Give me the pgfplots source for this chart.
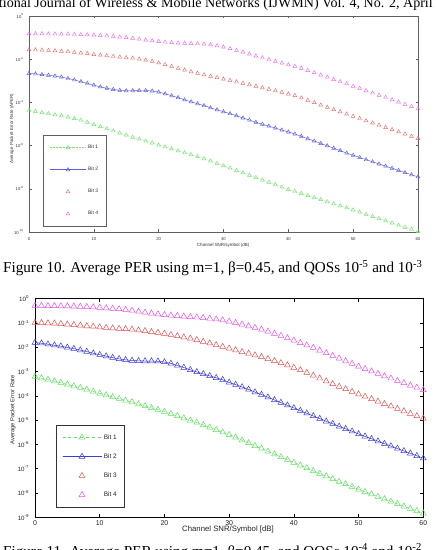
\documentclass[border=0pt]{standalone}
\usepackage{pgfplots}
\pgfplotsset{compat=1.18}
\usepackage{pgfplotstable}
\usepackage{fontspec}
\setmainfont{Liberation Serif}
\newfontfamily\arial{Liberation Sans}
\definecolor{tgreen}{RGB}{120,225,120}
\definecolor{tblue}{RGB}{95,95,225}
\definecolor{tred}{RGB}{232,110,110}
\definecolor{tmag}{RGB}{238,110,238}
\definecolor{bgreen}{RGB}{95,225,95}
\definecolor{bblue}{RGB}{60,60,215}
\definecolor{bred}{RGB}{228,80,80}
\definecolor{bmag}{RGB}{232,80,232}

\pgfplotstableread{
x b1 b2 b3 b4
0 4.27e-5 2.19e-3 2.75e-2 1.51e-1
1 3.80e-5 2.09e-3 2.69e-2 1.51e-1
2 3.39e-5 1.95e-3 2.63e-2 1.51e-1
3 3.02e-5 1.82e-3 2.57e-2 1.48e-1
4 2.69e-5 1.66e-3 2.45e-2 1.48e-1
5 2.40e-5 1.48e-3 2.34e-2 1.45e-1
6 2.09e-5 1.29e-3 2.24e-2 1.45e-1
7 1.78e-5 1.10e-3 2.09e-2 1.41e-1
8 1.51e-5 9.12e-4 1.95e-2 1.38e-1
9 1.20e-5 7.59e-4 1.82e-2 1.35e-1
10 9.55e-6 6.31e-4 1.66e-2 1.32e-1
11 7.59e-6 5.25e-4 1.55e-2 1.26e-1
12 6.03e-6 4.47e-4 1.45e-2 1.20e-1
13 4.79e-6 3.98e-4 1.35e-2 1.15e-1
14 3.80e-6 3.63e-4 1.26e-2 1.07e-1
15 3.09e-6 3.47e-4 1.17e-2 1.00e-1
16 2.45e-6 3.47e-4 1.12e-2 9.33e-2
17 2.00e-6 3.55e-4 1.02e-2 8.51e-2
18 1.62e-6 3.55e-4 9.12e-3 7.76e-2
19 1.32e-6 3.39e-4 7.94e-3 7.08e-2
20 1.07e-6 3.02e-4 6.76e-3 6.61e-2
21 8.71e-7 2.51e-4 5.62e-3 6.17e-2
22 7.08e-7 2.04e-4 4.68e-3 5.89e-2
23 5.75e-7 1.66e-4 3.80e-3 5.62e-2
24 4.68e-7 1.32e-4 3.16e-3 5.50e-2
25 3.80e-7 1.07e-4 2.63e-3 5.37e-2
26 3.09e-7 8.71e-5 2.24e-3 5.25e-2
27 2.45e-7 7.08e-5 1.91e-3 5.01e-2
28 1.95e-7 5.62e-5 1.62e-3 4.68e-2
29 1.51e-7 4.57e-5 1.41e-3 4.17e-2
30 1.17e-7 3.72e-5 1.20e-3 3.63e-2
31 9.12e-8 3.02e-5 1.05e-3 3.09e-2
32 7.08e-8 2.40e-5 8.91e-4 2.57e-2
33 5.50e-8 1.91e-5 7.76e-4 2.14e-2
34 4.27e-8 1.51e-5 6.61e-4 1.74e-2
35 3.31e-8 1.20e-5 5.62e-4 1.41e-2
36 2.57e-8 9.77e-6 4.79e-4 1.15e-2
37 2.00e-8 7.94e-6 4.07e-4 9.55e-3
38 1.55e-8 6.46e-6 3.47e-4 7.94e-3
39 1.20e-8 5.25e-6 2.95e-4 6.61e-3
40 9.33e-9 4.27e-6 2.45e-4 5.50e-3
41 7.59e-9 3.47e-6 2.09e-4 4.68e-3
42 6.03e-9 2.69e-6 1.62e-4 3.80e-3
43 4.90e-9 2.09e-6 1.26e-4 3.02e-3
44 3.89e-9 1.62e-6 9.77e-5 2.40e-3
45 3.16e-9 1.26e-6 7.59e-5 1.86e-3
46 2.51e-9 9.77e-7 5.89e-5 1.48e-3
47 2.04e-9 7.59e-7 4.68e-5 1.15e-3
48 1.62e-9 5.89e-7 3.72e-5 9.12e-4
49 1.32e-9 4.47e-7 2.88e-5 7.24e-4
50 1.05e-9 3.55e-7 2.29e-5 5.62e-4
51 8.32e-10 2.82e-7 1.82e-5 4.47e-4
52 6.61e-10 2.24e-7 1.41e-5 3.47e-4
53 5.25e-10 1.78e-7 1.12e-5 2.75e-4
54 4.17e-10 1.41e-7 8.91e-6 2.14e-4
55 3.31e-10 1.12e-7 6.92e-6 1.70e-4
56 2.63e-10 8.91e-8 5.50e-6 1.32e-4
57 2.09e-10 7.08e-8 4.37e-6 1.05e-4
58 1.66e-10 5.62e-8 3.47e-6 8.13e-5
59 1.32e-10 4.47e-8 2.69e-6 6.46e-5
60 1.05e-10 3.55e-8 2.14e-6 5.01e-5
}\topdata

\pgfplotstableread{
x b1 b2 b3 b4
0 6.17e-4 1.55e-2 1.02e-1 5.13e-1
1 5.37e-4 1.45e-2 1.00e-1 5.13e-1
2 4.68e-4 1.32e-2 9.77e-2 5.01e-1
3 3.98e-4 1.20e-2 9.55e-2 5.01e-1
4 3.47e-4 1.10e-2 9.12e-2 4.90e-1
5 2.95e-4 9.77e-3 8.71e-2 4.90e-1
6 2.51e-4 8.71e-3 8.32e-2 4.79e-1
7 2.14e-4 7.59e-3 7.94e-2 4.68e-1
8 1.82e-4 6.61e-3 7.41e-2 4.57e-1
9 1.51e-4 5.62e-3 7.08e-2 4.47e-1
10 1.26e-4 4.90e-3 6.61e-2 4.27e-1
11 1.07e-4 4.27e-3 6.31e-2 4.07e-1
12 8.91e-5 3.72e-3 6.03e-2 3.89e-1
13 7.59e-5 3.31e-3 5.75e-2 3.72e-1
14 6.46e-5 3.02e-3 5.62e-2 3.47e-1
15 5.50e-5 2.82e-3 5.37e-2 3.24e-1
16 4.57e-5 2.75e-3 5.01e-2 2.95e-1
17 3.80e-5 2.69e-3 4.68e-2 2.69e-1
18 3.16e-5 2.69e-3 4.27e-2 2.45e-1
19 2.69e-5 2.63e-3 3.98e-2 2.29e-1
20 2.24e-5 2.45e-3 3.63e-2 2.14e-1
21 1.82e-5 2.14e-3 3.24e-2 2.04e-1
22 1.48e-5 1.78e-3 2.88e-2 1.95e-1
23 1.20e-5 1.45e-3 2.57e-2 1.86e-1
24 9.77e-6 1.17e-3 2.29e-2 1.78e-1
25 7.94e-6 9.55e-4 2.00e-2 1.70e-1
26 6.31e-6 7.94e-4 1.70e-2 1.62e-1
27 5.01e-6 6.61e-4 1.45e-2 1.51e-1
28 3.98e-6 5.50e-4 1.23e-2 1.41e-1
29 3.16e-6 4.57e-4 1.05e-2 1.29e-1
30 2.51e-6 3.55e-4 8.91e-3 1.15e-1
31 1.95e-6 2.88e-4 7.59e-3 1.00e-1
32 1.48e-6 2.29e-4 6.46e-3 8.71e-2
33 1.15e-6 1.82e-4 5.50e-3 7.41e-2
34 8.71e-7 1.41e-4 4.68e-3 6.31e-2
35 6.76e-7 1.12e-4 3.98e-3 5.37e-2
36 5.13e-7 8.71e-5 3.31e-3 4.47e-2
37 3.98e-7 6.76e-5 2.75e-3 3.63e-2
38 3.02e-7 5.25e-5 2.24e-3 2.95e-2
39 2.34e-7 4.07e-5 1.82e-3 2.40e-2
40 1.78e-7 3.16e-5 1.45e-3 1.91e-2
41 1.38e-7 2.45e-5 1.15e-3 1.51e-2
42 1.07e-7 1.91e-5 8.91e-4 1.20e-2
43 8.13e-8 1.48e-5 6.92e-4 9.55e-3
44 6.31e-8 1.15e-5 5.25e-4 7.41e-3
45 4.90e-8 8.91e-6 3.98e-4 5.75e-3
46 3.80e-8 7.08e-6 3.09e-4 4.47e-3
47 2.95e-8 5.50e-6 2.40e-4 3.47e-3
48 2.34e-8 4.37e-6 1.91e-4 2.69e-3
49 1.82e-8 3.47e-6 1.48e-4 2.09e-3
50 1.41e-8 2.69e-6 1.17e-4 1.62e-3
51 1.12e-8 2.14e-6 9.33e-5 1.29e-3
52 8.91e-9 1.70e-6 7.41e-5 1.02e-3
53 7.08e-9 1.35e-6 5.89e-5 8.13e-4
54 5.62e-9 1.07e-6 4.68e-5 6.46e-4
55 4.47e-9 8.51e-7 3.72e-5 5.25e-4
56 3.55e-9 6.76e-7 2.95e-5 4.17e-4
57 2.82e-9 5.37e-7 2.34e-5 3.39e-4
58 2.24e-9 4.27e-7 1.86e-5 2.69e-4
59 1.82e-9 3.39e-7 1.48e-5 2.19e-4
60 1.45e-9 2.69e-7 1.17e-5 1.74e-4
}\botdata

\begin{document}
\begin{tikzpicture}[x=1bp,y=1bp]
\useasboundingbox (0bp,0bp) rectangle (436bp,550bp);
\fill[white] (0bp,0bp) rectangle (436bp,550bp);
% page text
\node[anchor=base west, inner sep=0, font=\fontsize{14.1}{17}\selectfont] at (-41bp,542bp)
  {International Journal of Wireless \& Mobile Networks (IJWMN) Vol. 4, No. 2, April 2012};
\node[anchor=base west, inner sep=0, font=\fontsize{15.2}{18}\selectfont] at (3bp,277bp)
  {Figure 10. Average PER using m=1, β=0.45, and QOSs 10\textsuperscript{-5} and 10\textsuperscript{-3}};
\node[anchor=base west, inner sep=0, font=\fontsize{15.2}{18}\selectfont] at (3bp,-6bp)
  {Figure 11. Average PER using m=1, β=0.45, and QOSs 10\textsuperscript{-4} and 10\textsuperscript{-2}};

% ---------- top chart ----------
\begin{axis}[
  at={(29bp,318bp)}, anchor=south west, scale only axis,
  width=389bp, height=216bp,
  /pgf/number format/assume math mode=true,
  xmin=0, xmax=60, ymode=log, ymin=1e-10, ymax=1,
  axis line style={draw=gray!75!black, line width=0.6pt},
  every tick/.style={draw=gray!75!black, line width=0.5pt},
  tick align=inside, major tick length=2.5bp,
  yminorticks=false,
  xtick={0,10,...,60},
  ytick={1e-10,1e-8,1e-6,1e-4,1e-2,1},
  yticklabels={10\textsuperscript{-10},10\textsuperscript{-8},10\textsuperscript{-6},10\textsuperscript{-4},10\textsuperscript{-2},10\textsuperscript{0}},
  ticklabel style={font=\arial\fontsize{4.2}{5}\selectfont, text=black!80},
  xticklabel shift=2.5bp, yticklabel shift=2bp,
  xlabel={Channel SNR/symbol (dB)},
  ylabel={Average Packet Error Rate (APER)},
  label style={font=\arial\fontsize{4.5}{5.5}\selectfont, text=black!80},
  xlabel style={at={(rel axis cs:0.499,-0.06)}, anchor=center},
  ylabel style={at={(rel axis cs:-0.044,0.478)}, anchor=center, rotate=0},
  every axis plot/.append style={line width=0.45pt, mark size=2.2bp, mark options={solid, line width=0.45pt}},
  legend image code/.code={\draw[mark repeat=2,mark phase=2,#1] plot coordinates {(0bp,0bp) (18bp,0bp) (36bp,0bp)};},
  legend cell align=left,
  legend style={at={(0.037,0.0245)}, anchor=south west, draw=gray!75!black, line width=0.6pt,
    font=\arial\fontsize{5}{6}\selectfont, text=black!80, inner xsep=6bp, inner ysep=8bp, row sep=13bp,
    /tikz/every even column/.append style={column sep=2bp}},
]
\addplot[color=tgreen, densely dotted, mark=triangle] table[x=x, y=b1] {\topdata};
\addplot[color=tblue, solid, mark=triangle] table[x=x, y=b2] {\topdata};
\addplot[color=tred, only marks, mark=triangle] table[x=x, y=b3] {\topdata};
\addplot[color=tmag, only marks, mark=triangle] table[x=x, y=b4] {\topdata};
\legend{Bit 1\hspace{14bp}, Bit 2\hspace{14bp}, Bit 3\hspace{14bp}, Bit 4\hspace{14bp}}
\end{axis}

% ---------- bottom chart ----------
\begin{axis}[
  at={(35bp,32.7bp)}, anchor=south west, scale only axis,
  width=388.3bp, height=218.7bp,
  /pgf/number format/assume math mode=true,
  xmin=0, xmax=60, ymode=log, ymin=1e-9, ymax=1,
  axis line style={draw=black, line width=0.6pt},
  every tick/.style={draw=black, line width=0.5pt},
  tick align=inside, major tick length=3bp,
  yminorticks=false,
  xtick={0,10,...,60},
  ytick={1e-9,1e-8,1e-7,1e-6,1e-5,1e-4,1e-3,1e-2,1e-1,1},
  yticklabels={10\textsuperscript{-9},10\textsuperscript{-8},10\textsuperscript{-7},10\textsuperscript{-6},10\textsuperscript{-5},10\textsuperscript{-4},10\textsuperscript{-3},10\textsuperscript{-2},10\textsuperscript{-1},10\textsuperscript{0}},
  xticklabel style={font=\arial\fontsize{7}{8}\selectfont, text=black!85},
  yticklabel style={font=\arial\fontsize{6.2}{7}\selectfont, text=black!85},
  yticklabel shift=2.5bp,
  xlabel={Channel SNR/Symbol [dB]},
  ylabel={Average Packet Error Rate},
  xlabel style={font=\arial\fontsize{7.8}{9}\selectfont, text=black!85, at={(rel axis cs:0.497,-0.058)}, anchor=center},
  ylabel style={font=\arial\fontsize{5.8}{7}\selectfont, text=black!85, at={(rel axis cs:-0.057,0.49)}, anchor=center, rotate=0},
  every axis plot/.append style={line width=0.5pt, mark size=3.4bp, mark options={solid, line width=0.5pt}},
  legend image code/.code={\draw[mark repeat=2,mark phase=2,#1] plot coordinates {(0bp,0bp) (19.5bp,0bp) (39bp,0bp)};},
  legend cell align=left,
  legend style={at={(0.054,0.0457)}, anchor=south west, draw=black!80, line width=0.6pt,
    font=\arial\fontsize{6.5}{7.5}\selectfont, text=black!85, inner xsep=6bp, inner ysep=7bp, row sep=9bp,
    /tikz/every even column/.append style={column sep=2bp}},
]
\addplot[color=bgreen, dashed, mark=triangle] table[x=x, y=b1] {\botdata};
\addplot[color=bblue, solid, mark=triangle] table[x=x, y=b2] {\botdata};
\addplot[color=bred, only marks, mark=triangle] table[x=x, y=b3] {\botdata};
\addplot[color=bmag, only marks, mark=triangle] table[x=x, y=b4] {\botdata};
\legend{Bit 1\hspace{12bp}, Bit 2\hspace{12bp}, Bit 3\hspace{12bp}, Bit 4\hspace{12bp}}
\end{axis}
\end{tikzpicture}
\end{document}
